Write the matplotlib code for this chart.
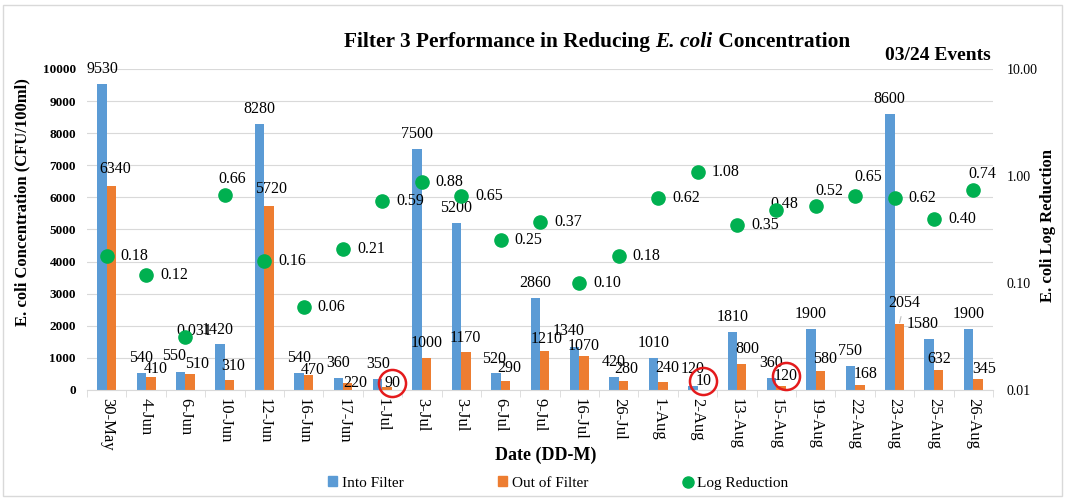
import matplotlib
matplotlib.use("Agg")
import matplotlib.pyplot as plt
from matplotlib.patches import Patch, Rectangle
from matplotlib.lines import Line2D
from matplotlib.transforms import offset_copy
import numpy as np

# ---------------- data ----------------
dates = ['30-May', '4-Jun', '6-Jun', '10-Jun', '12-Jun', '16-Jun', '17-Jun', '1-Jul',
         '3-Jul', '3-Jul', '6-Jul', '9-Jul', '16-Jul', '26-Jul', '1-Aug', '2-Aug',
         '13-Aug', '15-Aug', '19-Aug', '22-Aug', '23-Aug', '25-Aug', '26-Aug']
into_filter = [9530, 540, 550, 1420, 8280, 540, 360, 350, 7500, 5200, 520, 2860,
               1340, 420, 1010, 120, 1810, 360, 1900, 750, 8600, 1580, 1900]
out_filter = [6340, 410, 510, 310, 5720, 470, 220, 90, 1000, 1170, 290, 1210,
              1070, 280, 240, 10, 800, 120, 580, 168, 2054, 632, 345]
log_reduction = [0.18, 0.12, 0.031, 0.66, 0.16, 0.06, 0.21, 0.59, 0.88, 0.65, 0.25,
                 0.37, 0.10, 0.18, 0.62, 1.08, 0.35, 0.48, 0.52, 0.65, 0.62, 0.40, 0.74]
log_labels = ['0.18', '0.12', '0.031', '0.66', '0.16', '0.06', '0.21', '0.59', '0.88',
              '0.65', '0.25', '0.37', '0.10', '0.18', '0.62', '1.08', '0.35', '0.48',
              '0.52', '0.65', '0.62', '0.40', '0.74']
circled = [7, 15, 17]  # out-of-filter labels highlighted with red circles

left_ticks = list(range(0, 10001, 1000))
right_ticks = [0.01, 0.1, 1, 10]
right_ticklabels = ['0.01', '0.10', '1.00', '10.00']

title_parts = [('Filter 3 Performance in Reducing ', 'normal'),
               ('E. coli', 'italic'),
               (' Concentration', 'normal')]

# ---------------- style ----------------
BLUE = '#5B9BD5'
ORANGE = '#ED7D31'
GREEN = '#00B050'
GRID = '#D9D9D9'
SERIF = 'Liberation Serif'
LBL = 11.5

# label offsets in pixels (label centre relative to bar top centre)
blue_off = {i: (0, 15) for i in range(len(dates))}
blue_off.update({2: (-7, 16), 3: (-3, 14), 10: (-2, 14), 12: (-6, 16), 15: (0, 17), 21: (-7, 15)})
orange_off = {0: (4, 17), 1: (5, 8), 2: (7, 10), 3: (4, 14), 4: (2, 17), 5: (4, 5), 6: (7, 0),
              7: (5, 4), 8: (0, 15), 9: (-1, 14), 10: (4, 13), 11: (2, 12), 12: (0, 10),
              13: (3, 12), 14: (4, 14), 15: (1, 9), 16: (6, 15), 17: (5, 10), 18: (5, 12),
              19: (6, 11), 20: (5, 21), 21: (1, 11), 22: (6, 10)}
log_off = {i: (14, 0, 'left') for i in range(len(dates))}
log_off.update({2: (-9, 6, 'left'), 3: (7, 16, 'center'), 17: (-6, 6, 'left'),
                18: (0, 15, 'left'), 19: (13, 19, 'center'), 22: (9, 16, 'center')})

plt.rcParams['font.family'] = [SERIF, 'DejaVu Serif']

fig = plt.figure(figsize=(10.65, 4.98), dpi=100)
W, H = 1065, 498
ax = fig.add_axes([87 / W, 1 - 390 / H, (993 - 87) / W, (390 - 69) / H])

x = np.arange(len(dates))
w = 0.24
ax.bar(x - w / 2, into_filter, width=w, color=BLUE, zorder=2)
ax.bar(x + w / 2, out_filter, width=w, color=ORANGE, zorder=2)

ax.set_xlim(-0.5, len(dates) - 0.5)
ax.set_ylim(0, 10000)
ax.set_yticks(left_ticks)
ax.set_yticklabels([str(t) for t in left_ticks], fontsize=9.5, fontweight='bold')
ax.yaxis.grid(True, color=GRID, linewidth=0.8, zorder=0)
ax.set_axisbelow(True)
for s in ['top', 'right', 'left']:
    ax.spines[s].set_visible(False)
ax.spines['bottom'].set_color(GRID)
ax.tick_params(axis='y', length=0, pad=8)
ax.set_xticks(x)
ax.set_xticklabels(dates, rotation=270, fontsize=12)
ax.tick_params(axis='x', length=0, pad=6)
ax.set_xticks(np.arange(-0.5, len(dates), 1), minor=True)
ax.tick_params(axis='x', which='minor', length=5, color=GRID)

# bar labels
for i in range(len(dates)):
    dx, dy = blue_off[i]
    ax.annotate(str(into_filter[i]), (x[i] - w / 2, into_filter[i]), xytext=(dx, dy),
                textcoords='offset pixels', ha='center', va='center', fontsize=LBL, zorder=5)
    dx, dy = orange_off[i]
    if i == 20:
        ax.annotate(str(out_filter[i]), (x[i] + w / 2, out_filter[i]), xytext=(dx, dy),
                    textcoords='offset pixels', ha='center', va='center', fontsize=LBL, zorder=5,
                    arrowprops=dict(arrowstyle='-', color='#BFBFBF', lw=0.8, shrinkA=2, shrinkB=1))
    else:
        ax.annotate(str(out_filter[i]), (x[i] + w / 2, out_filter[i]), xytext=(dx, dy),
                    textcoords='offset pixels', ha='center', va='center', fontsize=LBL, zorder=5)

# red circles around highlighted labels
for i in circled:
    dx, dy = orange_off[i]
    tr = offset_copy(ax.transData, fig=fig, x=dx, y=dy, units='dots')
    ax.plot([x[i] + w / 2], [out_filter[i]], marker='o', markersize=19.5, markerfacecolor='none',
            markeredgecolor='#E41A1C', markeredgewidth=1.8, transform=tr, zorder=6, clip_on=False)

# secondary axis: log reduction
ax2 = ax.twinx()
ax2.set_yscale('log')
ax2.set_ylim(0.01, 10)
ax2.set_yticks(right_ticks)
ax2.set_yticklabels(right_ticklabels, fontsize=10)
ax2.yaxis.set_minor_locator(matplotlib.ticker.NullLocator())
ax2.tick_params(axis='y', length=0, pad=10)
for s in ax2.spines.values():
    s.set_visible(False)
ax2.plot(x, log_reduction, linestyle='none', marker='o', markersize=9.5, color=GREEN, zorder=4)
for i in range(len(dates)):
    dx, dy, ha = log_off[i]
    if i == 19:
        ax2.annotate(log_labels[i], (x[i], log_reduction[i]), xytext=(dx, dy),
                     textcoords='offset pixels', ha=ha, va='center', fontsize=LBL,
                     arrowprops=dict(arrowstyle='-', color='#BFBFBF', lw=0.8, shrinkA=2, shrinkB=6))
    else:
        ax2.annotate(log_labels[i], (x[i], log_reduction[i]), xytext=(dx, dy),
                     textcoords='offset pixels', ha=ha, va='center', fontsize=LBL)

# title built from pieces (mixed upright / italic)
renderer = fig.canvas.get_renderer()
pieces = []
for txt, style in title_parts:
    t = fig.text(0, 1 - 42 / H, txt, ha='left', va='center', fontsize=15.4,
                 fontweight='bold', fontstyle=style)
    pieces.append(t)
widths = [p.get_window_extent(renderer).width for p in pieces]
xstart = 597 - sum(widths) / 2
for p, wd in zip(pieces, widths):
    p.set_x(xstart / W)
    xstart += wd

fig.text(938 / W, 1 - 55 / H, '03/24 Events', ha='center', va='center', fontsize=14, fontweight='bold')
fig.text(22 / W, 1 - 202 / H, 'E. coli Concentration (CFU/100ml)', rotation=90, ha='center',
         va='center', fontsize=12, fontweight='bold')
fig.text(1048 / W, 1 - 226 / H, 'E. coli Log Reduction', rotation=90, ha='center',
         va='center', fontsize=12, fontweight='bold')
fig.text(546 / W, 1 - 455 / H, 'Date (DD-M)', ha='center', va='center', fontsize=13, fontweight='bold')

handles = [Patch(color=BLUE), Patch(color=ORANGE),
           Line2D([], [], linestyle='none', marker='o', markersize=8, color=GREEN)]
fig.legend(handles, ['Into Filter', 'Out of Filter', 'Log Reduction'], loc='center',
           bbox_to_anchor=(558 / W, 1 - 483 / H), ncol=3, frameon=False, fontsize=11,
           handlelength=0.6, handleheight=0.6, handletextpad=0.3, columnspacing=6.2)

fig.add_artist(Rectangle((3 / W, 2 / H), 1 - 6 / W, 1 - 7 / H, transform=fig.transFigure,
                         fill=False, edgecolor=GRID, linewidth=1))

fig.savefig('out.png', dpi=100)
